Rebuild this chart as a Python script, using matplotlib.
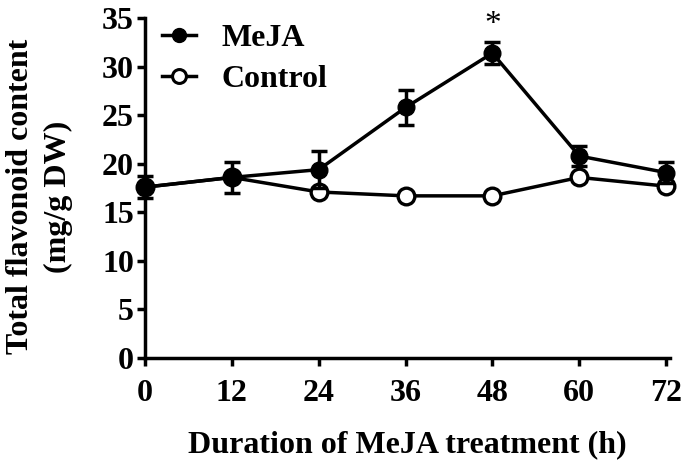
import numpy as np
import matplotlib
matplotlib.use("Agg")
import matplotlib.pyplot as plt
from matplotlib.lines import Line2D

# data
hours = [0, 12, 24, 36, 48, 60, 72]
meja = [17.6, 18.6, 19.4, 25.8, 31.4, 20.8, 19.1]
meja_err = [1.1, 1.6, 1.9, 1.8, 1.1, 1.0, 1.1]
control = [17.6, 18.6, 17.1, 16.7, 16.7, 18.6, 17.7]
control_err = [0.3, 0.3, 0.3, 0.2, 0.2, 0.4, 0.3]
xticks = [0, 12, 24, 36, 48, 60, 72]
yticks = [0, 5, 10, 15, 20, 25, 30, 35]

plt.rcParams['font.family'] = ['Liberation Serif', 'DejaVu Serif']
plt.rcParams['font.weight'] = 'bold'

fig = plt.figure(figsize=(6.85, 4.65), dpi=100)
ax = fig.add_axes([0.2117, 0.230, 0.766, 0.731])

lw = 2.5
fs = 23
ax.errorbar(hours, control, yerr=control_err, color='black', lw=lw,
            marker='o', ms=12, mfc='white', mec='black', mew=2.4,
            capsize=6, capthick=lw, clip_on=False, zorder=3)
ax.errorbar(hours, meja, yerr=meja_err, color='black', lw=lw,
            marker='o', ms=12, mfc='black', mec='black',
            capsize=6, capthick=lw, clip_on=False, zorder=4)

# significance mark
ax.text(48, meja[4] + meja_err[4] + 0.3, '*', ha='center', va='bottom',
        fontsize=24, fontweight='normal')

ax.set_xlim(0, 72.5)
ax.set_ylim(0, 35)
ax.set_xticks(xticks)
ax.set_yticks(yticks)
for s in ['top', 'right']:
    ax.spines[s].set_visible(False)
for s in ['left', 'bottom']:
    ax.spines[s].set_linewidth(lw)
ax.tick_params(width=lw, length=6, labelsize=fs)
ax.tick_params(axis='y', pad=2)
ax.tick_params(axis='x', pad=9)
for lab in ax.get_xticklabels() + ax.get_yticklabels():
    lab.set_fontweight('bold')

ax.set_xlabel('Duration of MeJA treatment (h)', fontsize=fs, fontweight='bold', labelpad=16)
ax.set_ylabel('Total flavonoid content\n(mg/g DW)', fontsize=fs, fontweight='bold',
              linespacing=1.4)
ax.yaxis.set_label_coords(-0.138, 0.475)

handles = [Line2D([], [], color='black', lw=lw, marker='o', ms=10, mfc='black'),
           Line2D([], [], color='black', lw=lw, marker='o', ms=10, mfc='white', mew=2.2)]
leg = ax.legend(handles, ['MeJA', 'Control'], loc='upper left', bbox_to_anchor=(-0.01, 1.05),
                frameon=False, fontsize=fs, handlelength=1.05, handletextpad=0.8,
                labelspacing=0.38, borderaxespad=0.3)
for t in leg.get_texts():
    t.set_fontweight('bold')

fig.savefig('out.png', dpi=100)
